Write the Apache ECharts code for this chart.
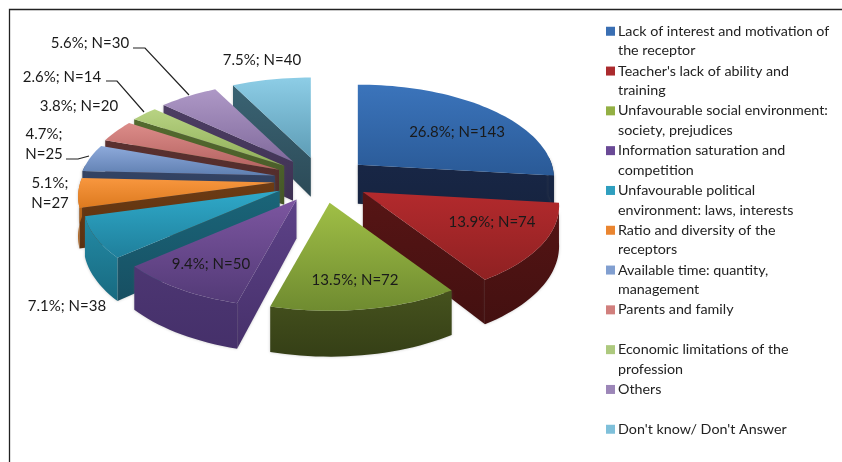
<!DOCTYPE html>
<html><head><meta charset="utf-8">
<style>html,body{margin:0;padding:0;background:#fff}#c{width:842px;height:462px;filter:blur(0.4px)}</style>
<script src="https://cdn.jsdelivr.net/npm/echarts@6/dist/echarts.min.js"></script></head>
<body><div id="c"></div>
<script>
const categories = ["Lack of interest and motivation of\nthe receptor","Teacher's lack of ability and\ntraining","Unfavourable social environment:\nsociety, prejudices","Information saturation and\ncompetition","Unfavourable political\nenvironment: laws, interests","Ratio and diversity of the\nreceptors","Available time: quantity,\nmanagement","Parents and family","Economic limitations of the\nprofession","Others","Don't know/ Don't Answer"];
const counts = [143,74,72,50,38,27,25,20,14,30,40];
const percents = ["26.8","13.9","13.5","9.4","7.1","5.1","4.7","3.8","2.6","5.6","7.5"];
const labelBreaks = [false,false,false,false,false,true,true,false,false,false,false];

const swatches = ['#3a6fb3','#ab2b2e','#93b044','#6a4a96','#2f9fbf','#ea8530','#819fd0','#d17f7d','#adc97e','#9c86b8','#7fc0da'];
const topFill = [['#3b74bb','#2a5a97'],['#b32a2d','#8f2122'],['#a0bf46','#6f8b30'],['#7c56a0','#533a77'],['#2fa9c9','#1f7f9b'],['#f8973f','#dd7a1f'],['#8eaadb','#5f7fb1'],['#dc8c89','#b46260'],['#b8d383','#8fae58'],['#ae98c6','#806a9c'],['#8dcde6','#5e9db6']];
const wallFill = [['#1b2c50','#16233f'],['#571515','#431010'],['#5c6c28','#303a14'],['#5d4288','#46306a'],['#1a6579','#174f62'],['#6e3c14','#5a300f'],['#37486b','#2d3b58'],['#5e3332','#4d2928'],['#566d30','#445626'],['#4f3f66','#3e3152'],['#3b6575','#2c4a57']];
const stripFill = [['#1b2c50','#16233f'],['#571515','#431010'],['#5c6c28','#353f16'],['#533b79','#45306a'],['#2795b2','#186a80'],['#c7701f','#a55a15'],['#37486b','#2d3b58'],['#5e3332','#4d2928'],['#566d30','#445626'],['#4f3f66','#3e3152'],['#3b6575','#2c4a57']];
const paintOrder = [10,0,9,8,7,6,5,4,3,1,2];
const labelAnchors = [[457,132],[492,222],[355,280],[211,264],[67,306],[50,193],[44,144],[79,106],[62,77],[90,43],[262,60]];
const leaders = [[[133,48],[145,48],[189,95]],[[106,81],[117,81],[144,112]],[[66,159],[78,159],[89,156]]];

const total = counts.reduce((a,b)=>a+b,0);
const C = [322,180], EXPLODE = [48,23], RX = 194, RY = 92, PERSP = 0.149, DEPTH = 39;
const starts = []; counts.reduce((s,v,i)=>{starts[i]=s;return s+v/total*360;},0);

function rim(deg, apex){
  const t = deg*Math.PI/180, u = -Math.cos(t), w = 1-PERSP*u;
  return [apex[0]+RX*Math.sin(t)/w, apex[1]+RY*u/w, DEPTH/w];
}
function grad(c){ return new echarts.graphic.LinearGradient(0,0,0,1,[{offset:0,color:c[0]},{offset:1,color:c[1]}]); }
function worldGrad(c, y0, y1){ return new echarts.graphic.LinearGradient(0,y0,0,y1,[{offset:0,color:c[0]},{offset:1,color:c[1]}],true); }
function sliceRenderer(i){
  return function(params, api){
    const sweep = api.value(0)/total*360, a0 = starts[i], a1 = a0+sweep, mid = (a0+a1)/2*Math.PI/180;
    const apex = [C[0]+EXPLODE[0]*Math.sin(mid), C[1]-EXPLODE[1]*Math.cos(mid)];
    const n = Math.max(6, Math.ceil(sweep/2)), pts = [];
    for(let k=0;k<=n;k++) pts.push(rim(a0+sweep*k/n, apex));
    const z = paintOrder.indexOf(i)*10, kids = [];
    const ys = pts.map(p=>p[1]+p[2]).concat(apex[1]+DEPTH), y0 = Math.min(apex[1],...pts.map(p=>p[1])), y1 = Math.max(...ys);
    const wall = (zz,p,c) => ({type:'polygon', z2:z+zz, shape:{points:p}, style:{fill:worldGrad(c,y0,y1), shadowBlur:3, shadowColor:'rgba(90,90,90,.35)'}});
    const sideWall = r => {
      // visible when the downward sweep leaves the wedge
      const p = pts[Math.floor(n/2)];
      const cross = (r[0]-apex[0])*(p[1]-apex[1])-(r[1]-apex[1])*(p[0]-apex[0]);
      const below = (r[0]-apex[0]);
      if(cross*below < 0) kids.push(wall(1,[apex,[r[0],r[1]],[r[0],r[1]+r[2]],[apex[0],apex[1]+DEPTH]],wallFill[i]));
    };
    sideWall(pts[0]); sideWall(pts[n]);
    // outer wall: front-facing part of the rim only
    const strip = pts.filter((p,k)=>{const d=a0+sweep*k/n; return Math.cos(d*Math.PI/180)<0.12;});
    if(strip.length>1){
      kids.push(wall(2,strip.map(p=>[p[0],p[1]]).concat(strip.slice().reverse().map(p=>[p[0],p[1]+p[2]])),stripFill[i]));
    }
    kids.push({type:'polygon', z2:z+3, shape:{points:[apex].concat(pts.map(p=>[p[0],p[1]]))}, style:{fill:grad(topFill[i])}});
    const text = labelBreaks[i] ? percents[i]+'%;\nN='+counts[i] : percents[i]+'%; N='+counts[i];
    kids.push({type:'text', z2:1000, x:labelAnchors[i][0], y:labelAnchors[i][1], style:{text, fill:'#1a1a1a', font:'15px Lato', align:'center', verticalAlign:'middle', lineHeight:19.5}});
    return {type:'group', children:kids};
  };
}
const series = categories.map((name,i)=>({
  type:'custom', name, coordinateSystem:'none', data:[[counts[i]]], itemStyle:{color:swatches[i]},
  renderItem:sliceRenderer(i), animation:false, silent:true, clip:false
}));
const graphic = [{type:'polyline', shape:{points:[[9.5,462],[9.5,9.5],[842,9.5]]}, style:{stroke:'#222',fill:null,lineWidth:1.3}, z:20}]
  .concat(leaders.map(points=>({type:'polyline', shape:{points}, style:{stroke:'#222',fill:null,lineWidth:1.2}, z:20})));
const chart = echarts.init(document.getElementById('c'),null,{renderer:'canvas'});
chart.setOption({
  animation:false, backgroundColor:'#fff', series, graphic,
  legend:{ orient:'vertical', left:606, top:2, padding:0, itemGap:-18.7, itemWidth:9, itemHeight:9, icon:'rect', selectedMode:false,
    height:600, data:categories,
    formatter:n=>'\n'+n+(n.includes('\n')?'':'\n '),
    textStyle:{fontFamily:'Lato',fontSize:14.3,color:'#222',lineHeight:19.5,padding:[0,0,0,-2]} }
});
</script></body></html>
